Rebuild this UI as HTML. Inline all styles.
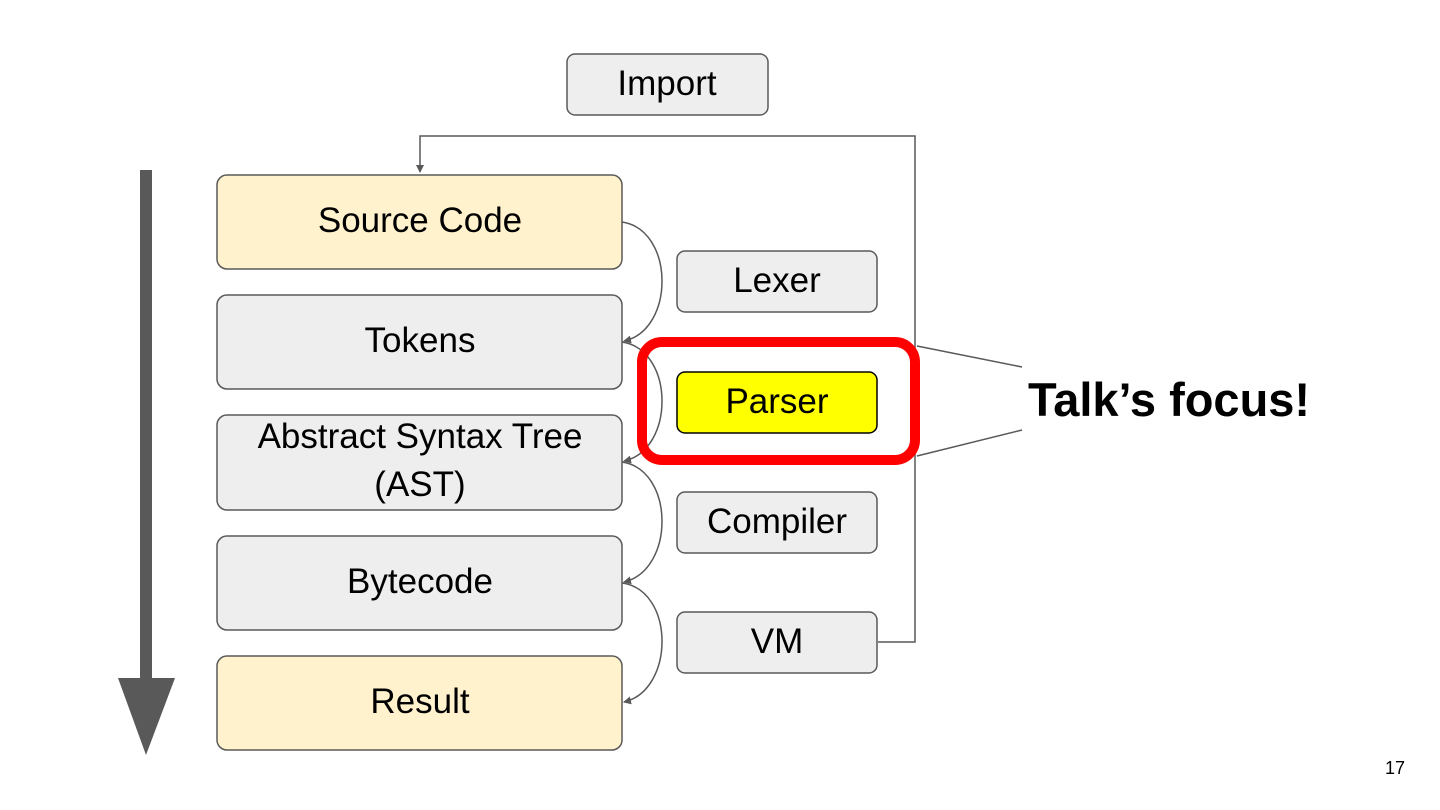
<!DOCTYPE html>
<html><head><meta charset="utf-8"><style>
html,body{margin:0;padding:0;background:#fff;}
svg{display:block;}
text{font-family:"Liberation Sans",Arial,sans-serif;}
</style></head><body>
<svg width="1440" height="810" viewBox="0 0 1440 810" xmlns="http://www.w3.org/2000/svg">
<defs>
<marker id="ah" markerWidth="8" markerHeight="8" refX="7" refY="4" orient="auto" markerUnits="userSpaceOnUse">
<path d="M0,0 L8,4 L0,8 z" fill="#595959"/></marker>
</defs>
<rect width="1440" height="810" fill="#fff"/>
<rect x="140" y="170" width="12" height="510" fill="#595959"/>
<polygon points="118,678 175,678 146,755" fill="#595959"/>
<polyline points="878,642 915,642 915,136 420,136 420,172" fill="none" stroke="#595959" stroke-width="1.5" marker-end="url(#ah)"/>
<g stroke="#595959" stroke-width="1.5">
<rect x="217" y="175" width="405" height="94" rx="10" fill="#fff2cc"/>
<rect x="217" y="295" width="405" height="94" rx="10" fill="#eeeeee"/>
<rect x="217" y="415" width="405" height="95" rx="10" fill="#eeeeee"/>
<rect x="217" y="536" width="405" height="94" rx="10" fill="#eeeeee"/>
<rect x="217" y="656" width="405" height="94" rx="10" fill="#fff2cc"/>
<rect x="567" y="54" width="201" height="61" rx="8" fill="#eeeeee"/>
<rect x="677" y="251" width="200" height="61" rx="8" fill="#eeeeee"/>
<rect x="677" y="492" width="200" height="61" rx="8" fill="#eeeeee"/>
<rect x="677" y="612" width="200" height="61" rx="8" fill="#eeeeee"/>
</g>
<rect x="677" y="372" width="200" height="61" rx="8" fill="#ffff00" stroke="#000" stroke-width="1.5"/>
<g fill="none" stroke="#595959" stroke-width="1.5" marker-end="url(#ah)">
<path d="M622,222 C675,230 675,330 624,341"/>
<path d="M622,342 C675,350 675,450 624,461"/>
<path d="M622,462 C675,470 675,570 624,582"/>
<path d="M622,583 C675,590 675,690 624,702"/>
</g>
<rect x="642" y="342" width="273" height="118" rx="20" fill="none" stroke="#ff0000" stroke-width="10"/>
<line x1="917" y1="346" x2="1022" y2="367" stroke="#595959" stroke-width="1.5"/>
<line x1="917" y1="456" x2="1022" y2="430" stroke="#595959" stroke-width="1.5"/>
<g font-size="35" fill="#000" text-anchor="middle">
<text x="667" y="95">Import</text>
<text x="420" y="232">Source Code</text>
<text x="420" y="352">Tokens</text>
<text x="420" y="448">Abstract Syntax Tree</text>
<text x="420" y="496">(AST)</text>
<text x="420" y="593">Bytecode</text>
<text x="420" y="713">Result</text>
<text x="777" y="292">Lexer</text>
<text x="777" y="413">Parser</text>
<text x="777" y="533">Compiler</text>
<text x="777" y="653">VM</text>
</g>
<text x="1028" y="416" font-size="47" font-weight="bold" fill="#000">Talk’s focus!</text>
<text x="1405" y="774" font-size="18" fill="#000" text-anchor="end">17</text>
</svg>
</body></html>
